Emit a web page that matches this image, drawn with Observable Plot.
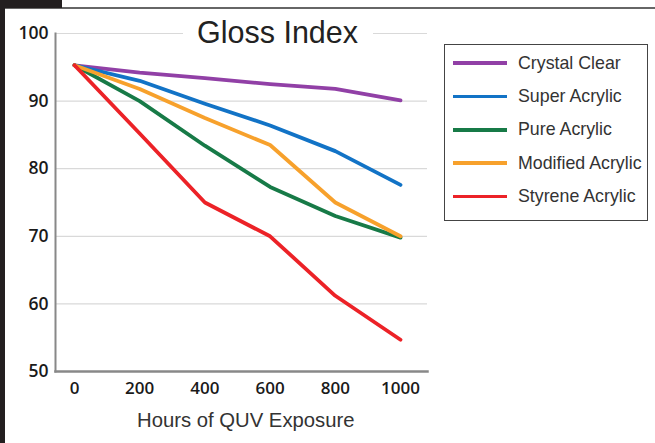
<!DOCTYPE html>
<html>
<head>
<meta charset="utf-8">
<script src="https://cdn.jsdelivr.net/npm/d3@7"></script>
<script src="https://cdn.jsdelivr.net/npm/@observablehq/plot@0.6"></script>
<style>
  html, body { margin: 0; padding: 0; background: #fff; }
  #wrap { position: relative; width: 655px; height: 443px; overflow: hidden; background: #fff; }
  #wrap svg { position: absolute; left: 0; top: 0; }
  .abs { position: absolute; }
  #title { font-family: "Liberation Sans", Arial, sans-serif; font-size: 30.5px; color: #222; background: #fff; padding: 0 15px 0 14px; white-space: nowrap; line-height: 36px; }
  #legend { border: 1.5px solid #444; box-sizing: border-box; background: #fff; }
  .lrow { position: absolute; left: 0; height: 20px; display: flex; align-items: center; }
  .lline { width: 54px; height: 3.5px; margin-left: 8px; margin-right: 11px; }
  .ltext { font-family: "Liberation Sans", Arial, sans-serif; font-size: 17.8px; color: #333; white-space: nowrap; }
  #xlabel { font-family: "Liberation Sans", Arial, sans-serif; font-size: 20.3px; color: #333; white-space: nowrap; }
</style>
</head>
<body>
<div id="wrap"></div>
<script>
// ---- data ----
const hours = [0, 200, 400, 600, 800, 1000];
const seriesNames = ["Crystal Clear", "Super Acrylic", "Pure Acrylic", "Modified Acrylic", "Styrene Acrylic"];
const seriesColors = ["#9140a6", "#1273c6", "#177a47", "#f7a12c", "#ec2227"];
const crystalClear   = [95.3, 94.2, 93.4, 92.5, 91.8, 90.1];
const superAcrylic   = [95.3, 93.0, 89.6, 86.4, 82.6, 77.6];
const pureAcrylic    = [95.3, 90.0, 83.4, 77.3, 73.0, 69.8];
const modifiedAcrylic= [95.3, 91.8, 87.5, 83.5, 75.0, 70.0];
const styreneAcrylic = [95.3, 85.2, 75.0, 70.0, 61.2, 54.7];
const yTicks = [50, 60, 70, 80, 90, 100];
const gridTicks = [60, 70, 80, 90, 100];
const xTicks = [0, 200, 400, 600, 800, 1000];
const titleText = "Gloss Index";
const xLabelText = "Hours of QUV Exposure";

const seriesValues = [crystalClear, superAcrylic, pureAcrylic, modifiedAcrylic, styreneAcrylic];
const rows = [];
seriesNames.forEach((name, i) => {
  hours.forEach((h, j) => rows.push({series: name, hours: h, gloss: seriesValues[i][j]}));
});

const chart = Plot.plot({
  width: 655,
  height: 443,
  marginLeft: 55,
  marginRight: 228,
  marginTop: 33,
  marginBottom: 72,
  style: {background: "transparent", overflow: "visible"},
  x: {domain: [0, 1000], range: [74, 400]},
  y: {domain: [50, 100], range: [371, 33]},
  color: {domain: seriesNames, range: seriesColors},
  marks: [
    Plot.gridY(gridTicks, {stroke: "#d9d9d9", strokeOpacity: 1, strokeWidth: 1.2}),
    Plot.frame({anchor: "left", stroke: "#888", strokeWidth: 2}),
    Plot.frame({anchor: "bottom", stroke: "#888", strokeWidth: 2.5}),
    Plot.axisY(yTicks, {tickSize: 0, tickPadding: 7, fontSize: 17.5, fontWeight: 600, fill: "#1a1a1a",
      fontFamily: "'Open Sans', sans-serif", label: null, tickFormat: d => String(d)}),
    Plot.axisX(xTicks, {tickSize: 0, tickPadding: 10, fontSize: 17, fontWeight: 600, fill: "#1a1a1a",
      fontFamily: "'Open Sans', sans-serif", label: null, tickFormat: d => String(d)}),
    Plot.line(rows, {x: "hours", y: "gloss", z: "series", stroke: "series", strokeWidth: 3.8,
      strokeLinejoin: "round", strokeLinecap: "round"})
  ]
});

const wrap = document.getElementById("wrap");
wrap.appendChild(chart);

// decorative border
const addBox = (l, t, w, h, c) => {
  const d = document.createElement("div");
  d.className = "abs";
  Object.assign(d.style, {left: l + "px", top: t + "px", width: w + "px", height: h + "px", background: c});
  wrap.appendChild(d);
};
addBox(0, 7, 655, 2, "#666");
addBox(0, 0, 62, 8, "#231f20");
addBox(0, 0, 5, 443, "#231f20");

// title
const title = document.createElement("div");
title.id = "title"; title.className = "abs"; title.textContent = titleText;
Object.assign(title.style, {left: "183px", top: "14px"});
wrap.appendChild(title);

// x label
const xl = document.createElement("div");
xl.id = "xlabel"; xl.className = "abs"; xl.textContent = xLabelText;
Object.assign(xl.style, {left: "137px", top: "409px"});
wrap.appendChild(xl);

// legend
const legend = document.createElement("div");
legend.id = "legend"; legend.className = "abs";
Object.assign(legend.style, {left: "444px", top: "44px", width: "204px", height: "177px"});
seriesNames.forEach((name, i) => {
  const r = document.createElement("div");
  r.className = "lrow";
  r.style.top = (8 + i * 33.4) + "px";
  const ln = document.createElement("div");
  ln.className = "lline"; ln.style.background = seriesColors[i];
  const tx = document.createElement("div");
  tx.className = "ltext"; tx.textContent = name;
  r.appendChild(ln); r.appendChild(tx);
  legend.appendChild(r);
});
wrap.appendChild(legend);
</script>
</body>
</html>
